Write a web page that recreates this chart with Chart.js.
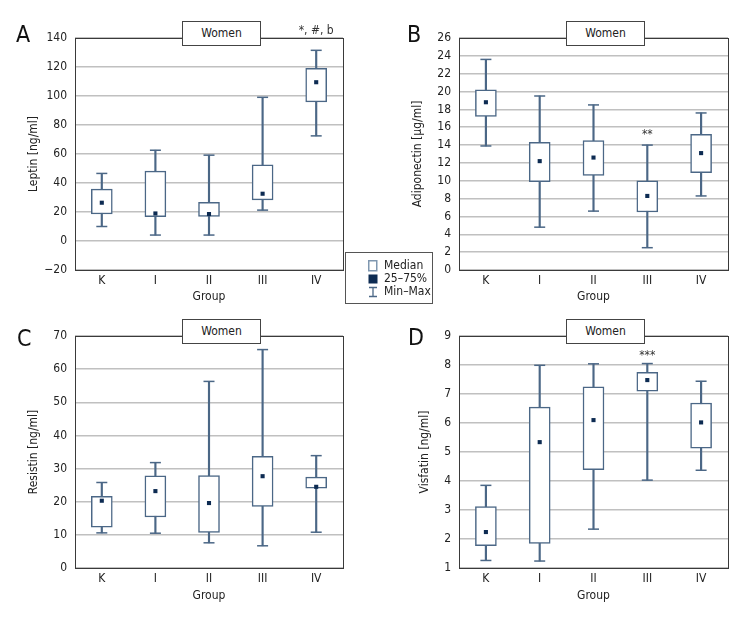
<!DOCTYPE html>
<html>
<head>
<meta charset="utf-8">
<script src="https://cdn.jsdelivr.net/npm/chart.js@4.4.1/dist/chart.umd.min.js"></script>
<style>
  body { margin: 0; background: #fff; }
  #page { position: relative; width: 756px; height: 624px; overflow: hidden;
          font-family: 'Liberation Sans Narrow', 'DejaVu Sans Condensed', sans-serif; color: #222; }
  canvas { position: absolute; }
  .letter { position: absolute; font-size: 23px; line-height: 24px; color: #111; }
  .women { position: absolute; box-sizing: border-box; width: 79px; height: 25px; border: 1px solid #444;
           background: #fff; font-size: 12px; line-height: 23px; text-align: center; }
  #legend { position: absolute; left: 345px; top: 252px; width: 88px; height: 52px; box-sizing: border-box;
            border: 1px solid #555; background: #fff; font-size: 12px; }
  .row { position: absolute; left: 22px; height: 13px; line-height: 13px; }
  .row span { position: absolute; left: 16px; white-space: nowrap; }
  .sym { position: absolute; top: 1px; left: 0; }
</style>
</head>
<body>
<div id="page">
  <canvas id="cA" width="378" height="310" style="left:0;top:0"></canvas>
  <canvas id="cB" width="378" height="310" style="left:378px;top:0"></canvas>
  <canvas id="cC" width="378" height="300" style="left:0;top:310px"></canvas>
  <canvas id="cD" width="378" height="300" style="left:378px;top:310px"></canvas>

  <div class="letter" style="left:16px;top:22px">A</div>
  <div class="letter" style="left:407px;top:22px">B</div>
  <div class="letter" style="left:17px;top:326px">C</div>
  <div class="letter" style="left:408px;top:325px">D</div>

  <div class="women" style="left:182px;top:21px">Women</div>
  <div class="women" style="left:566px;top:21px">Women</div>
  <div class="women" style="left:182px;top:319px">Women</div>
  <div class="women" style="left:566px;top:319px">Women</div>

  <div id="legend">
    <div class="row" style="top:6px">
      <svg class="sym" width="10" height="12"><rect x="0.75" y="0.75" width="8" height="10" fill="#fff" stroke="#7f97b0" stroke-width="1.5"/></svg>
      <span>Median</span>
    </div>
    <div class="row" style="top:19px">
      <svg class="sym" width="10" height="12"><rect x="0.5" y="1.5" width="9" height="9" fill="#0d2b52"/></svg>
      <span>25–75%</span>
    </div>
    <div class="row" style="top:32px">
      <svg class="sym" width="10" height="12"><path d="M1 1.5H9M5 1.5V10.5M1 10.5H9" stroke="#4b6786" stroke-width="1.3" fill="none"/></svg>
      <span>Min–Max</span>
    </div>
  </div>
</div>

<script>
const groups = ['K', 'I', 'II', 'III', 'IV'];

// A - Leptin [ng/ml]
const leptinMin = [10, 4.1, 4.1, 21.3, 72.5];
const leptinQ1 = [18.6, 16.7, 17, 28.4, 95.9];
const leptinMedian = [26.4, 19, 18.6, 32.6, 109.5];
const leptinQ3 = [35.8, 48.2, 26.6, 52.5, 119.1];
const leptinMax = [46.6, 62.6, 59.2, 99.1, 131.5];
const leptinTicks = [-20, 0, 20, 40, 60, 80, 100, 120, 140];
const leptinNotes = ['', '', '', '', '*, #, b'];

// B - Adiponectin [µg/ml]
const adipoMin = [13.9, 4.8, 6.6, 2.5, 8.3];
const adipoQ1 = [17.2, 9.9, 10.6, 6.5, 10.9];
const adipoMedian = [18.8, 12.2, 12.6, 8.3, 13.1];
const adipoQ3 = [20.2, 14.3, 14.5, 10.0, 15.2];
const adipoMax = [23.6, 19.5, 18.5, 14.0, 17.6];
const adipoTicks = [0, 2, 4, 6, 8, 10, 12, 14, 16, 18, 20, 22, 24, 26];
const adipoNotes = ['', '', '', '**', ''];

// C - Resistin [ng/ml]
const resistinMin = [10.6, 10.5, 7.6, 6.7, 10.8];
const resistinQ1 = [12.3, 15.4, 10.7, 18.6, 24.1];
const resistinMedian = [20.3, 23.2, 19.6, 27.7, 24.5];
const resistinQ3 = [21.6, 27.8, 27.9, 33.7, 27.4];
const resistinMax = [25.8, 31.8, 56.3, 65.9, 33.9];
const resistinTicks = [0, 10, 20, 30, 40, 50, 60, 70];
const resistinNotes = ['', '', '', '', ''];

// D - Visfatin [ng/ml]
const visfatinMin = [1.26, 1.24, 2.34, 4.03, 4.37];
const visfatinQ1 = [1.77, 1.85, 4.39, 7.10, 5.13];
const visfatinMedian = [2.24, 5.34, 6.10, 7.48, 6.02];
const visfatinQ3 = [3.12, 6.55, 7.25, 7.75, 6.69];
const visfatinMax = [3.85, 7.99, 8.04, 8.05, 7.44];
const visfatinTicks = [1, 2, 3, 4, 5, 6, 7, 8, 9];
const visfatinNotes = ['', '', '', '***', ''];

const FONT = "'Liberation Sans Narrow', 'DejaVu Sans Condensed', sans-serif";
const BOX = '#4b6786';
const MED = '#0d2b52';
const GRID = '#c0c0c0';

Chart.defaults.font.family = FONT;
Chart.defaults.color = '#222';

const framePlugin = {
  id: 'frame',
  beforeDatasetsDraw(chart) {
    const { ctx, chartArea: a } = chart;
    ctx.save();
    ctx.strokeStyle = '#3a3a3a';
    ctx.lineWidth = 1;
    ctx.strokeRect(Math.round(a.left) + 0.5, Math.round(a.top) + 0.5, Math.round(a.width), Math.round(a.height));
    ctx.restore();
  },
  afterDatasetsDraw(chart, args, opts) {
    if (!opts.notes) return;
    const { ctx, scales } = chart;
    ctx.save();
    ctx.font = '12px ' + FONT;
    ctx.fillStyle = '#333';
    ctx.textAlign = 'center';
    ctx.textBaseline = 'middle';
    opts.notes.forEach((t, i) => {
      if (t) ctx.fillText(t, scales.x.getPixelForValue(i), scales.y.getPixelForValue(opts.noteAt));
    });
    ctx.restore();
  }
};

function panel(id, p) {
  const canvas = document.getElementById(id);
  const W = canvas.width, H = canvas.height;
  new Chart(canvas, {
    type: 'bar',
    data: {
      labels: groups,
      datasets: [
        { type: 'line', data: p.med, showLine: false, pointStyle: 'rect', pointRadius: 2.9,
          pointBackgroundColor: MED, pointBorderWidth: 0, order: 0 },
        { type: 'line', data: p.max, showLine: false, pointStyle: 'line', pointRadius: 5.5,
          borderColor: BOX, pointBorderColor: BOX, pointBorderWidth: 1.5, order: 1 },
        { type: 'line', data: p.min, showLine: false, pointStyle: 'line', pointRadius: 5.5,
          borderColor: BOX, pointBorderColor: BOX, pointBorderWidth: 1.5, order: 1 },
        { data: groups.map((g, i) => [p.q1[i], p.q3[i]]), grouped: false, barThickness: 21,
          backgroundColor: '#fff', borderColor: BOX, borderWidth: 1.5, borderSkipped: false, order: 2 },
        { data: groups.map((g, i) => [p.min[i], p.max[i]]), grouped: false, barThickness: 1.5,
          backgroundColor: BOX, borderWidth: 0, order: 3 }
      ]
    },
    options: {
      responsive: false,
      animation: false,
      events: [],
      layout: { padding: { left: 0, top: p.top, right: W - p.right, bottom: 0 } },
      plugins: {
        legend: { display: false },
        tooltip: { enabled: false },
        frame: { notes: p.notes, noteAt: p.noteAt }
      },
      scales: {
        x: {
          grid: { display: false, drawTicks: false },
          border: { display: false },
          ticks: { padding: 4, font: { size: 12 }, color: '#222' },
          title: { display: true, text: 'Group', font: { size: 12 }, padding: { top: 0, bottom: p.groupPad } },
          afterFit: s => { s.height = H - p.bottom; }
        },
        y: {
          min: p.ticks[0], max: p.ticks[p.ticks.length - 1],
          afterBuildTicks: s => { s.ticks = p.ticks.map(v => ({ value: v })); },
          grid: { color: GRID, lineWidth: 1.5, drawTicks: false },
          border: { display: false },
          ticks: { padding: 8, font: { size: 12 }, color: '#222',
                   callback: v => String(v).replace('-', '\u2212') },
          title: { display: true, text: p.title, font: { size: 12 }, padding: { top: p.titlePad, bottom: 0 } },
          afterFit: s => { s.width = p.left; }
        }
      }
    },
    plugins: [framePlugin]
  });
}

panel('cA', { min: leptinMin, q1: leptinQ1, med: leptinMedian, q3: leptinQ3, max: leptinMax,
  ticks: leptinTicks, notes: leptinNotes, noteAt: 145, title: 'Leptin [ng/ml]',
  left: 75, right: 343, top: 38, bottom: 270, titlePad: 27, groupPad: 6 });
panel('cB', { min: adipoMin, q1: adipoQ1, med: adipoMedian, q3: adipoQ3, max: adipoMax,
  ticks: adipoTicks, notes: adipoNotes, noteAt: 15.1, title: 'Adiponectin [µg/ml]',
  left: 81, right: 350, top: 38, bottom: 270, titlePad: 33, groupPad: 6 });
panel('cC', { min: resistinMin, q1: resistinQ1, med: resistinMedian, q3: resistinQ3, max: resistinMax,
  ticks: resistinTicks, notes: resistinNotes, noteAt: 0, title: 'Resistin [ng/ml]',
  left: 75, right: 343, top: 26, bottom: 258, titlePad: 27, groupPad: 7 });
panel('cD', { min: visfatinMin, q1: visfatinQ1, med: visfatinMedian, q3: visfatinQ3, max: visfatinMax,
  ticks: visfatinTicks, notes: visfatinNotes, noteAt: 8.32, title: 'Visfatin [ng/ml]',
  left: 81, right: 350, top: 26, bottom: 258, titlePad: 40, groupPad: 7 });
</script>
</body>
</html>
